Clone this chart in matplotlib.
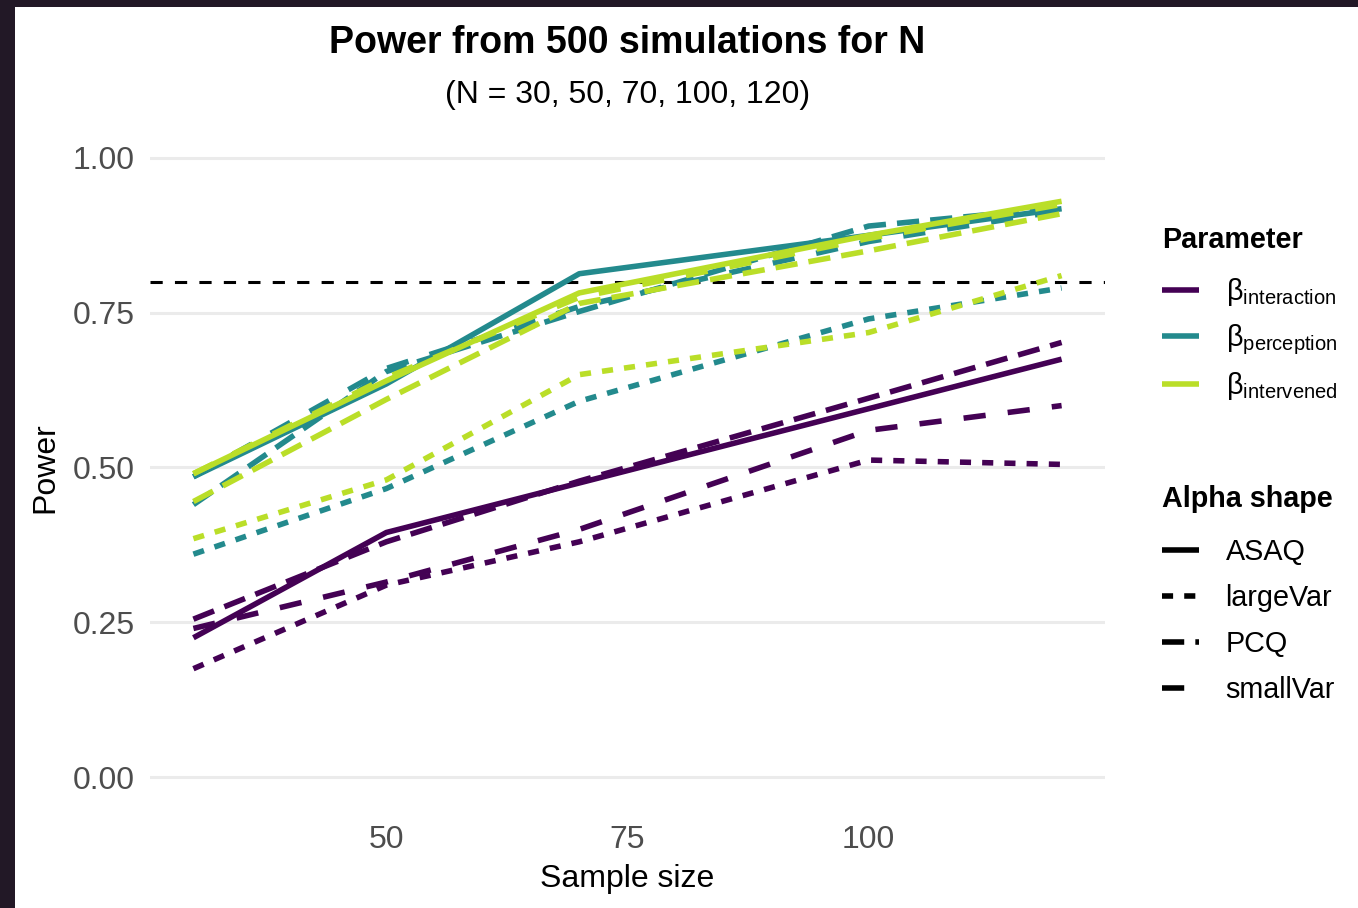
import matplotlib
matplotlib.use('Agg')
import matplotlib.pyplot as plt
from matplotlib.lines import Line2D
from matplotlib.patches import Rectangle

plt.rcParams['font.family'] = ['Liberation Sans', 'DejaVu Sans']
plt.rcParams['mathtext.fontset'] = 'custom'
plt.rcParams['mathtext.rm'] = 'Liberation Sans'
plt.rcParams['mathtext.it'] = 'Liberation Sans:italic'
plt.rcParams['mathtext.default'] = 'regular'

# ---------------- data ----------------
sample_size = [30, 50, 70, 100, 120]
parameters = ['interaction', 'perception', 'intervened']
parameter_labels = [r'$\beta_{interaction}$', r'$\beta_{perception}$', r'$\beta_{intervened}$']
alpha_shapes = ['ASAQ', 'largeVar', 'PCQ', 'smallVar']

interaction_ASAQ = [0.225, 0.395, 0.475, 0.595, 0.675]
interaction_largeVar = [0.175, 0.310, 0.380, 0.512, 0.505]
interaction_PCQ = [0.255, 0.380, 0.478, 0.612, 0.702]
interaction_smallVar = [0.240, 0.315, 0.400, 0.560, 0.600]

perception_ASAQ = [0.485, 0.635, 0.813, 0.875, 0.918]
perception_largeVar = [0.360, 0.466, 0.607, 0.740, 0.790]
perception_PCQ = [0.440, 0.655, 0.752, 0.890, 0.920]
perception_smallVar = [0.485, 0.660, 0.760, 0.865, 0.915]

intervened_ASAQ = [0.490, 0.640, 0.782, 0.875, 0.930]
intervened_largeVar = [0.385, 0.480, 0.650, 0.718, 0.810]
intervened_PCQ = [0.445, 0.610, 0.765, 0.850, 0.910]
intervened_smallVar = [0.490, 0.645, 0.775, 0.870, 0.925]

power_threshold = 0.8

power = {
    'interaction': [interaction_ASAQ, interaction_largeVar, interaction_PCQ, interaction_smallVar],
    'perception': [perception_ASAQ, perception_largeVar, perception_PCQ, perception_smallVar],
    'intervened': [intervened_ASAQ, intervened_largeVar, intervened_PCQ, intervened_smallVar],
}

# ---------------- style ----------------
colors = {'interaction': '#440154', 'perception': '#238A8D', 'intervened': '#BADE28'}
dash_styles = {'ASAQ': None, 'largeVar': (2, 2), 'PCQ': (4, 2), 'smallVar': (4, 4)}
LW = 4.0

W, H = 1358, 908
fig = plt.figure(figsize=(W / 100, H / 100), dpi=100)
fig.patch.set_facecolor('#221826')
fig.add_artist(Rectangle((15 / W, 0), 1 - 15 / W, 1 - 7 / H, transform=fig.transFigure,
                         facecolor='white', edgecolor='none', zorder=-5))

ax = fig.add_axes([150 / W, 1 - 808 / H, (1105 - 150) / W, (808 - 127) / H])
ax.set_facecolor('none')
for s in ax.spines.values():
    s.set_visible(False)

ax.set_xlim(25.5, 124.5)
ax.set_ylim(-0.05, 1.05)
ax.set_xticks([50, 75, 100])
ax.set_yticks([0, 0.25, 0.5, 0.75, 1.0])
ax.set_yticklabels(['0.00', '0.25', '0.50', '0.75', '1.00'])
ax.tick_params(axis='both', length=0, labelsize=23, labelcolor='#4D4D4D')
ax.tick_params(axis='x', pad=12)
ax.tick_params(axis='y', pad=11)
ax.yaxis.grid(True, color='#EBEBEB', lw=2.2)
ax.xaxis.grid(False)
ax.set_axisbelow(True)

ax.axhline(power_threshold, color='black', lw=2.2, dashes=(4, 4), zorder=1)

for p in parameters:
    for shape, vals in zip(alpha_shapes, power[p]):
        kw = {}
        if dash_styles[shape] is not None:
            kw['dashes'] = dash_styles[shape]
        ax.plot(sample_size, vals, color=colors[p], lw=LW, solid_capstyle='butt',
                dash_capstyle='butt', zorder=2, **kw)

# ---------------- text ----------------
cx = 627.5 / W
fig.text(cx, 1 - 53 / H, 'Power from 500 simulations for N', ha='center', va='baseline',
         fontsize=27, fontweight='bold')
fig.text(cx, 1 - 103 / H, '(N = 30, 50, 70, 100, 120)', ha='center', va='baseline', fontsize=23)
fig.text(cx, 1 - 887 / H, 'Sample size', ha='center', va='baseline', fontsize=23)
fig.text(45 / W, 1 - 467.5 / H, 'Power', ha='center', va='center', rotation=90, fontsize=23)

# ---------------- legends ----------------
param_handles = [Line2D([], [], color=colors[p], lw=LW, solid_capstyle='butt') for p in parameters]
shape_handles = []
for shape in alpha_shapes:
    kw = {}
    if dash_styles[shape] is not None:
        kw['dashes'] = dash_styles[shape]
    shape_handles.append(Line2D([], [], color='black', lw=LW, solid_capstyle='butt',
                                dash_capstyle='butt', **kw))

FS = 20.7
common = dict(loc='upper left', frameon=False, fontsize=FS,
              title_fontproperties={'weight': 'bold', 'size': FS},
              handlelength=1.28, handletextpad=0.93,
              borderpad=0, borderaxespad=0, alignment='left')
leg1 = fig.legend(param_handles, parameter_labels, title='Parameter', labelspacing=0.48,
                  bbox_to_anchor=(1162 / W, 1 - 226 / H), **common)
leg1._legend_box.sep = 0.48 * FS + 6.0
leg2 = fig.legend(shape_handles, alpha_shapes, title='Alpha shape', labelspacing=0.63,
                  bbox_to_anchor=(1162 / W, 1 - 485 / H), **common)
leg2._legend_box.sep = 0.63 * FS + 5.0

fig.savefig('out.png', dpi=100)
